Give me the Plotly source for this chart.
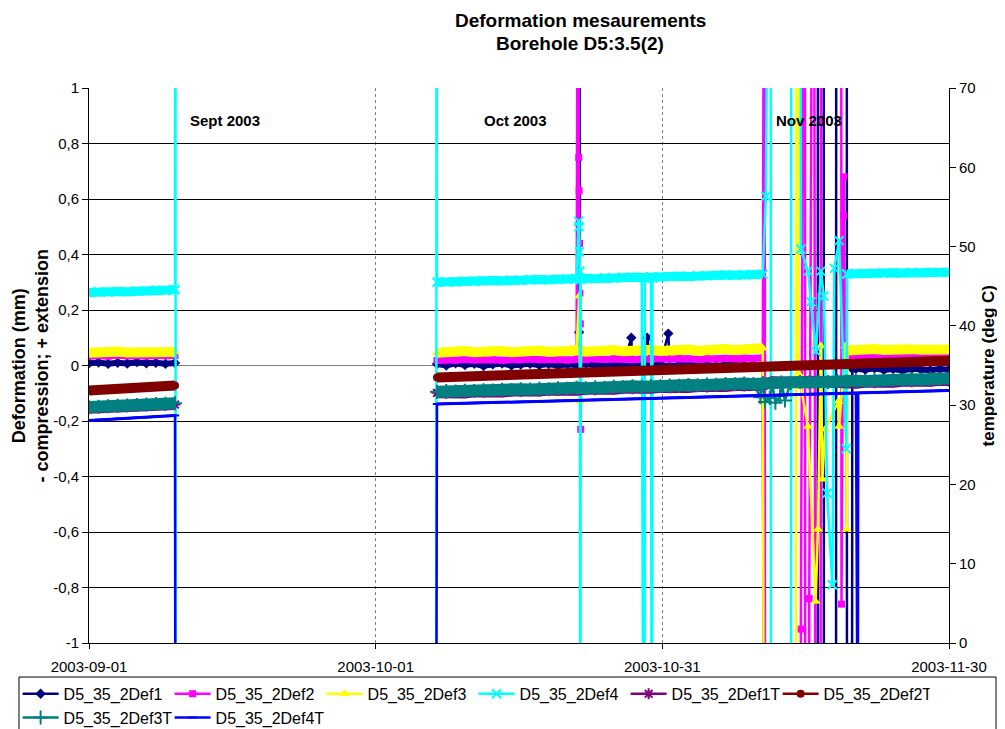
import plotly.graph_objects as go
import pandas as pd

FONT = "Arial, 'Liberation Sans', sans-serif"

# ---------------- categories / names ----------------
names = ["D5_35_2Def1", "D5_35_2Def2", "D5_35_2Def3", "D5_35_2Def4",
         "D5_35_2Def1T", "D5_35_2Def2T", "D5_35_2Def3T", "D5_35_2Def4T"]

# sampling grid of the two recorded periods
sep_times = list(pd.date_range("2003-09-01", "2003-09-10", freq="D"))            # 10 readings
oct_times = list(pd.date_range("2003-10-07 10:00", "2003-11-30 00:00", periods=56))  # 56 readings
gap_time = pd.Timestamp("2003-09-20")

# ---------------- deformation (mm), left axis ----------------
def1_sep = [0.008, 0.011, 0.006, 0.010, 0.007, 0.012, 0.008, 0.010, 0.006, 0.009]
def2_sep = [0.034, 0.036, 0.033, 0.037, 0.035, 0.036, 0.034, 0.037, 0.035, 0.036]
def3_sep = [0.046, 0.049, 0.045, 0.050, 0.047, 0.049, 0.046, 0.050, 0.048, 0.049]
def4_sep = [0.263, 0.266, 0.264, 0.267, 0.266, 0.269, 0.268, 0.271, 0.270, 0.273]

def1_oct = [0.005, 0.0, 0.008, 0.002, 0.006, -0.002, 0.004, 0.007, 0.0, 0.003,
            0.006, 0.001, 0.005, -0.001, 0.004, 0.002, 0.006, 0.0, 0.003, 0.005,
            -0.002, 0.002, 0.004, 0.0, 0.003, -0.003, 0.002, 0.004, 0.0, 0.002,
            -0.002, 0.003, 0.001, -0.001, 0.002, -0.003,
            None, None, None, None, None, None, None, None, None,
            -0.012, -0.015, -0.010, -0.016, -0.013, -0.018, -0.012, -0.015, -0.017, -0.013, -0.015]
def2_oct = [0.018, 0.021, 0.019, 0.022, 0.020, 0.023, 0.021, 0.019, 0.022, 0.020,
            0.023, 0.021, 0.024, 0.022, 0.020, 0.023, 0.021, 0.024, 0.022, 0.025,
            0.023, 0.021, 0.024, 0.022, 0.025, 0.023, 0.026, 0.024, 0.022, 0.025,
            0.023, 0.026, 0.024, 0.027, 0.025, 0.027,
            None, None, None, None, None, None, None, None,
            0.030, 0.033, 0.031, 0.034, 0.032, 0.030, 0.033, 0.031, 0.034, 0.032, 0.031, 0.033]
def3_oct = [0.046, 0.050, 0.047, 0.052, 0.048, 0.051, 0.049, 0.053, 0.048, 0.052,
            0.050, 0.054, 0.049, 0.053, 0.051, 0.055, 0.050, 0.054, 0.052, 0.056,
            0.051, 0.055, 0.053, 0.057, 0.052, 0.056, 0.054, 0.058, 0.053, 0.057,
            0.055, 0.059, 0.056, 0.060, 0.058, 0.062,
            None, None, None, None, None, None, None, None,
            0.054, 0.058, 0.055, 0.059, 0.056, 0.060, 0.055, 0.059, 0.057, 0.060, 0.056, 0.058]
def4_oct = [0.300, 0.302, 0.301, 0.304, 0.303, 0.305, 0.306, 0.305, 0.308, 0.307,
            0.309, 0.310, 0.309, 0.312, 0.311, 0.313, 0.314, 0.313, 0.316, 0.315,
            0.317, 0.318, 0.317, 0.320, 0.319, 0.321, 0.322, 0.321, 0.324, 0.323,
            0.325, 0.326, 0.325, 0.328, 0.327, 0.329,
            None, None, None, None, None, None, None, None,
            0.330, 0.332, 0.331, 0.333, 0.332, 0.334, 0.333, 0.335, 0.334, 0.336, 0.335, 0.336]

# ---------------- temperature (deg C), right axis ----------------
def1t_sep = [29.60, 29.65, 29.70, 29.76, 29.81, 29.86, 29.91, 29.96, 30.02, 30.08]
def2t_sep = [31.85, 31.92, 31.99, 32.06, 32.13, 32.20, 32.27, 32.34, 32.41, 32.48]
def3t_sep = [29.75, 29.80, 29.86, 29.91, 29.97, 30.02, 30.08, 30.13, 30.19, 30.24]
def4t_sep = [28.07, 28.14, 28.21, 28.28, 28.35, 28.42, 28.49, 28.56, 28.63, 28.70]

def1t_oct = [31.55, 31.48, 31.61, 31.54, 31.67, 31.60, 31.72, 31.65, 31.78, 31.71,
             31.84, 31.77, 31.90, 31.83, 31.96, 31.89, 32.01, 31.94, 32.07, 32.00,
             32.13, 32.06, 32.19, 32.12, 32.25, 32.18, 32.30, 32.23, 32.36, 32.29,
             32.42, 32.35, 32.48, 32.41, 32.54, 32.47,
             32.95, 32.88, 33.00, 32.90, 33.02, 32.93, 33.05, 32.96,
             32.83, 32.76, 32.89, 32.82, 32.95, 32.88, 33.01, 32.94, 33.07, 33.00, 33.13, 33.06]
def2t_oct = [33.50, 33.54, 33.58, 33.61, 33.65, 33.69, 33.73, 33.77, 33.81, 33.84,
             33.88, 33.92, 33.96, 34.00, 34.03, 34.07, 34.11, 34.15, 34.19, 34.23,
             34.26, 34.30, 34.34, 34.38, 34.42, 34.46, 34.49, 34.53, 34.57, 34.61,
             34.65, 34.68, 34.72, 34.76, 34.80, 34.84, 34.88, 34.91, 34.95, 34.99,
             35.03, 35.07, 35.10, 35.14, 35.18, 35.22, 35.26, 35.30, 35.33, 35.37,
             35.41, 35.45, 35.49, 35.52, 35.56, 35.60]
def3t_oct = [31.70, 31.77, 31.72, 31.83, 31.78, 31.89, 31.84, 31.95, 31.90, 32.01,
             31.96, 32.07, 32.02, 32.13, 32.08, 32.19, 32.14, 32.25, 32.20, 32.31,
             32.26, 32.37, 32.32, 32.43, 32.38, 32.49, 32.44, 32.55, 32.50, 32.61,
             32.56, 32.67, 32.62, 32.73, 32.68, 32.79, 32.74, 32.85, 32.80, 32.91,
             32.86, 32.97, 32.92, 33.03, 32.98, 33.09, 33.04, 33.15, 33.10, 33.21,
             33.16, 33.27, 33.22, 33.33, 33.28, 33.37]
def4t_oct = [30.14, 30.17, 30.20, 30.23, 30.26, 30.30, 30.33, 30.36, 30.39, 30.42,
             30.45, 30.48, 30.51, 30.54, 30.58, 30.61, 30.64, 30.67, 30.70, 30.73,
             30.76, 30.79, 30.82, 30.86, 30.89, 30.92, 30.95, 30.98, 31.01, 31.04,
             31.07, 31.10, 31.14, 31.17, 31.20, 31.23, 31.26, 31.29, 31.32, 31.35,
             31.38, 31.42, 31.45, 31.48, 31.51, 31.54, 31.57, 31.60, 31.63, 31.66,
             31.70, 31.73, 31.76, 31.79, 31.82, 31.85]

# ---------------- erratic readings (spikes) ----------------
def1_spikes = [("2003-10-22 07:00", 0.12), ("2003-10-22 08:00", 3.0), ("2003-10-22 09:00", 0.0),
               ("2003-10-27 18:00", 0.10), ("2003-10-29 10:00", 0.10), ("2003-10-31 15:00", 0.115),
               ("2003-11-10 17:00", -3.0), ("2003-11-16 06:00", -3.0), ("2003-11-16 07:00", 3.0),
               ("2003-11-16 21:00", 3.0), ("2003-11-16 22:00", -3.0), ("2003-11-18 04:00", -3.0),
               ("2003-11-18 05:00", 3.0), ("2003-11-19 07:00", 3.0), ("2003-11-19 08:00", -3.0),
               ("2003-11-19 20:00", -3.0), ("2003-11-19 21:00", -0.012)]
def2_spikes = [("2003-10-22 05:00", 3.0), ("2003-10-22 06:00", 0.75), ("2003-10-22 07:00", 0.63),
               ("2003-10-22 08:00", 0.44), ("2003-10-22 09:00", 0.26), ("2003-10-22 10:00", 0.15),
               ("2003-10-22 11:00", -0.23), ("2003-10-22 12:00", 0.022),
               ("2003-11-10 17:00", 3.0), ("2003-11-10 18:00", -3.0), ("2003-11-14 11:00", -3.0),
               ("2003-11-14 12:00", -0.95), ("2003-11-14 22:00", 3.0), ("2003-11-14 23:00", -3.0),
               ("2003-11-15 08:00", -3.0), ("2003-11-15 09:00", -0.84), ("2003-11-15 20:00", 3.0),
               ("2003-11-16 02:00", -3.0), ("2003-11-16 13:00", -3.0), ("2003-11-16 14:00", 0.25),
               ("2003-11-16 15:00", 3.0), ("2003-11-18 17:00", 3.0), ("2003-11-18 18:00", -0.86),
               ("2003-11-18 23:00", 0.54), ("2003-11-19 00:00", 0.68), ("2003-11-19 02:00", 0.030)]
def3_spikes = [("2003-10-22 07:00", 0.25), ("2003-10-22 10:00", -0.13), ("2003-10-22 12:00", 0.05),
               ("2003-11-10 17:00", -3.0), ("2003-11-14 00:00", -3.0), ("2003-11-14 01:00", 3.0),
               ("2003-11-14 05:00", 3.0), ("2003-11-14 06:00", -0.03), ("2003-11-15 06:00", -0.22),
               ("2003-11-16 01:00", -0.85), ("2003-11-16 07:00", -0.59), ("2003-11-16 14:00", 0.07),
               ("2003-11-16 18:00", -0.41), ("2003-11-17 01:00", -0.23), ("2003-11-18 10:00", -0.13),
               ("2003-11-18 12:00", -0.22), ("2003-11-19 04:00", 0.07), ("2003-11-19 07:00", -0.59),
               ("2003-11-19 09:00", 0.054)]
def4_spikes = [("2003-09-10 01:00", 3.0), ("2003-09-10 02:00", -3.0),
               ("2003-10-07 08:00", -3.0), ("2003-10-07 09:00", 3.0),
               ("2003-10-22 06:00", 0.52), ("2003-10-22 07:00", 0.50), ("2003-10-22 08:00", 0.41),
               ("2003-10-22 09:00", 0.34), ("2003-10-22 10:00", -3.0), ("2003-10-22 11:00", 0.31),
               ("2003-10-29 03:00", -3.0), ("2003-10-29 04:00", 0.315),
               ("2003-10-29 22:00", -3.0), ("2003-10-29 23:00", 0.315),
               ("2003-11-10 20:00", 0.61), ("2003-11-11 08:00", 3.0), ("2003-11-11 09:00", -3.0),
               ("2003-11-13 11:00", -3.0), ("2003-11-13 12:00", 3.0), ("2003-11-14 11:00", 3.0),
               ("2003-11-14 12:00", 0.42), ("2003-11-15 06:00", 0.34), ("2003-11-15 13:00", 0.23),
               ("2003-11-16 02:00", 0.05), ("2003-11-16 14:00", 0.34), ("2003-11-16 22:00", 0.25),
               ("2003-11-17 06:00", -0.46), ("2003-11-17 19:00", -0.79), ("2003-11-18 00:00", 0.35),
               ("2003-11-18 12:00", 0.45), ("2003-11-19 06:00", -0.30), ("2003-11-19 08:00", 0.33)]
def1t_spikes = []
def2t_spikes = []
def3t_spikes = [("2003-11-10 06:00", 31.0), ("2003-11-10 18:00", 30.4), ("2003-11-11 06:00", 30.9),
                ("2003-11-11 20:00", 30.3), ("2003-11-12 08:00", 31.2), ("2003-11-12 20:00", 30.6)]
def4t_spikes = [("2003-09-10 01:00", -20.0), ("2003-10-07 08:00", -20.0),
                ("2003-11-20 11:00", -20.0), ("2003-11-20 12:00", 31.55)]

# ---------------- styles ----------------
colors = ["#000080", "#FF00FF", "#FFFF00", "#00FFFF", "#800080", "#800000", "#008080", "#0000FF"]
symbols = ["diamond", "square", "triangle-up", "x-thin-open", "asterisk-open", "circle",
           "cross-thin-open", "line-ew-open"]
msizes = [8, 7, 9, 9, 9, 8, 10, 6]
band_w = [6, 7, 10, 9, 11, 10, 12, 3]

seps = [def1_sep, def2_sep, def3_sep, def4_sep, def1t_sep, def2t_sep, def3t_sep, def4t_sep]
octs = [def1_oct, def2_oct, def3_oct, def4_oct, def1t_oct, def2t_oct, def3t_oct, def4t_oct]
spikes = [def1_spikes, def2_spikes, def3_spikes, def4_spikes,
          def1t_spikes, def2t_spikes, def3t_spikes, def4t_spikes]


def build(sep_vals, oct_vals, spk):
    seg1 = [(t, v) for t, v in zip(sep_times, sep_vals)]
    seg2 = [(t, v) for t, v in zip(oct_times, oct_vals) if v is not None]
    for t, v in spk:
        ts = pd.Timestamp(t)
        (seg1 if ts < gap_time else seg2).append((ts, v))
    seg1.sort(key=lambda p: p[0])
    seg2.sort(key=lambda p: p[0])
    xs = [p[0] for p in seg1] + [gap_time] + [p[0] for p in seg2]
    ys = [p[1] for p in seg1] + [None] + [p[1] for p in seg2]
    return xs, ys


fig = go.Figure()
for k in range(8):
    yax = "y" if k < 4 else "y2"
    # thick band formed by the dense regular readings
    fig.add_trace(go.Scatter(
        x=sep_times + [gap_time] + oct_times, y=seps[k] + [None] + octs[k],
        mode="lines", line=dict(color=colors[k], width=band_w[k]),
        showlegend=False, hoverinfo="skip", yaxis=yax, legendgroup=names[k]))
    xs, ys = build(seps[k], octs[k], spikes[k])
    open_sym = symbols[k].endswith("open")
    fig.add_trace(go.Scatter(
        x=xs, y=ys, name=names[k], mode="lines+markers", yaxis=yax, legendgroup=names[k],
        line=dict(color=colors[k], width=2.5),
        marker=dict(symbol=symbols[k], size=msizes[k], color=colors[k],
                    line=dict(color=colors[k], width=2 if open_sym else 0))))

# ---------------- axes ----------------
yvals = [-1, -0.8, -0.6, -0.4, -0.2, 0, 0.2, 0.4, 0.6, 0.8, 1]
ytext = ["-1", "-0,8", "-0,6", "-0,4", "-0,2", "0", "0,2", "0,4", "0,6", "0,8", "1"]
xvals = ["2003-09-01", "2003-10-01", "2003-10-31", "2003-11-30"]

# the page adds an 8px body margin, so the figure is slightly smaller than the window
fig.update_layout(
    width=997, height=721,
    margin=dict(l=81, r=56, t=80, b=86, autoexpand=False),
    paper_bgcolor="white", plot_bgcolor="white",
    font=dict(family=FONT, size=15, color="black"),
    xaxis=dict(type="date", range=["2003-09-01", "2003-11-30"],
               tickvals=xvals, ticktext=xvals,
               showgrid=True, gridcolor="#808080", griddash="dot", gridwidth=1,
               showline=True, linecolor="black", linewidth=1,
               ticks="outside", ticklen=5, tickcolor="black", ticklabelstandoff=5,
               tickfont=dict(size=15), zeroline=False),
    yaxis=dict(range=[-1, 1], tickvals=yvals, ticktext=ytext,
               showgrid=True, gridcolor="black", gridwidth=1,
               zeroline=True, zerolinecolor="#808080", zerolinewidth=1,
               showline=True, linecolor="black", linewidth=1,
               ticks="outside", ticklen=6, tickcolor="black",
               tickfont=dict(size=15)),
    yaxis2=dict(range=[0, 70], tickvals=[0, 10, 20, 30, 40, 50, 60, 70],
                overlaying="y", side="right", showgrid=False, zeroline=False,
                showline=True, linecolor="black", linewidth=1,
                ticks="outside", ticklen=6, tickcolor="black",
                tickfont=dict(size=15)),
    legend=dict(orientation="h", x=-0.083, xanchor="left", y=-0.061, yanchor="top",
                bordercolor="black", borderwidth=0, bgcolor="rgba(0,0,0,0)",
                font=dict(size=16), entrywidth=101, entrywidthmode="pixels",
                itemwidth=36, tracegroupgap=0, traceorder="normal"),
    showlegend=True,
)

# legend frame spanning the chart width (as in the original)
fig.add_shape(type="rect", xref="paper", yref="paper",
              x0=-0.0814, x1=1.0547, y0=-0.0613, y1=-0.20,
              line=dict(color="black", width=1), fillcolor="rgba(0,0,0,0)", layer="above")

annotations = [
    dict(text="<b>Deformation mesaurements</b>", x=0.571, y=1.1225),
    dict(text="<b>Borehole D5:3.5(2)</b>", x=0.571, y=1.0793),
]
for a in annotations:
    a.update(xref="paper", yref="paper", showarrow=False, xanchor="center", yanchor="middle",
             font=dict(size=19, family=FONT))
    fig.add_annotation(**a)

for txt, xp in [("Sept 2003", 0.158), ("Oct 2003", 0.4965), ("Nov 2003", 0.837)]:
    fig.add_annotation(text="<b>%s</b>" % txt, x=xp, y=0.9423, xref="paper", yref="paper",
                       showarrow=False, xanchor="center", yanchor="middle",
                       font=dict(size=15, family=FONT))

fig.add_annotation(text="<b>Deformation (mm)<br>- compression; + extension</b>",
                   x=-0.0686, y=0.5, xref="paper", yref="paper", textangle=-90,
                   showarrow=False, xanchor="center", yanchor="middle",
                   font=dict(size=18, family=FONT))
fig.add_annotation(text="<b>temperature (deg C)</b>",
                   x=1.0465, y=0.5, xref="paper", yref="paper", textangle=-90,
                   showarrow=False, xanchor="center", yanchor="middle",
                   font=dict(size=17, family=FONT))

fig.write_html("out.html")
